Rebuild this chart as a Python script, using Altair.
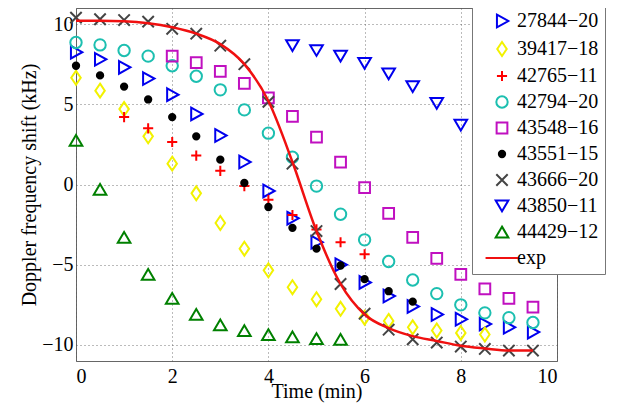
import altair as alt
import pandas as pd

# Time axis (min)
time = [0, 0.5, 1, 1.5, 2, 2.5, 3, 3.5, 4, 4.5, 5, 5.5, 6, 6.5, 7, 7.5, 8, 8.5, 9, 9.5]

N = None
s27844_20 = [8.25, 7.8, 7.3, 6.6, 5.6, 4.4, 3.05, 1.4, -0.4, -2.1, -3.6, -5.0, -6.1, -6.95, -7.6, -8.1, -8.4, -8.7, -8.9, -9.2]
s39417_18 = [6.65, 5.85, 4.7, 3.0, 1.3, -0.55, -2.4, -4.0, -5.35, -6.4, -7.15, -7.75, -8.3, -8.5, -8.9, -9.1, -9.25, -9.35, N, N]
s42765_11 = [N, N, 4.2, 3.5, 2.65, 1.8, 0.85, -0.1, -0.95, -1.9, -2.8, -3.6, -4.35, N, N, N, N, N, N, N]
s42794_20 = [8.85, 8.7, 8.35, 8.0, 7.4, 6.75, 5.9, 4.65, 3.2, 1.7, -0.1, -1.85, -3.45, -4.8, -5.95, -6.8, -7.5, -8.0, -8.3, -8.6]
s43548_16 = [N, N, N, N, 8.0, 7.6, 7.05, 6.3, 5.4, 4.25, 2.95, 1.4, -0.2, -1.8, -3.3, -4.6, -5.6, -6.5, -7.1, -7.65]
s43551_15 = [7.4, 6.8, 6.1, 5.3, 4.2, 3.0, 1.55, 0.1, -1.4, -2.7, -4.0, -5.05, -5.9, -6.65, -7.3, N, N, N, N, N]
s43666_20 = [10.4, 10.3, 10.25, 10.15, 9.7, 9.4, 8.65, 7.5, 5.15, 1.3, -2.9, -6.2, -8.05, -9.05, -9.65, -9.85, -10.1, -10.25, -10.35, -10.35]
s43850_11 = [N, N, N, N, N, N, N, N, N, 8.65, 8.35, 8.0, 7.55, 6.9, 6.1, 5.05, 3.7, N, N, N]
s44429_12 = [2.75, -0.3, -3.3, -5.6, -7.1, -8.1, -8.75, -9.1, -9.35, -9.5, -9.6, -9.65, N, N, N, N, N, N, N, N]
exp_fit = [10.2, 10.2, 10.17, 10.05, 9.8, 9.4, 8.75, 7.5, 5.2, 1.4, -2.9, -6.2, -8.1, -8.95, -9.45, -9.75, -10.05, -10.22, -10.35, -10.35]

names = ["27844\u221220", "39417\u221218", "42765\u221211", "42794\u221220", "43548\u221216",
         "43551\u221215", "43666\u221220", "43850\u221211", "44429\u221212", "exp"]
series = [s27844_20, s39417_18, s42765_11, s42794_20, s43548_16,
          s43551_15, s43666_20, s43850_11, s44429_12]

stroke_colors = ["#0000EE", "#F2F200", "#FF0000", "#1CBFB0", "#C010C0",
                 "#000000", "#444444", "#0000EE", "#008000", "#F01010"]
fill_colors = ["transparent"] * 5 + ["#000000"] + ["transparent"] * 4
shapes = [
    "M-0.8,-1L1,0L-0.8,1Z",                                   # right triangle
    "M0,-1.1L0.75,0L0,1.1L-0.75,0Z",                          # diamond
    "M-0.8,0L0.8,0M0,-0.8L0,0.8",                             # plus
    "M-0.9,0A0.9,0.9,0,1,0,0.9,0A0.9,0.9,0,1,0,-0.9,0Z",      # circle
    "M-0.85,-0.85L0.85,-0.85L0.85,0.85L-0.85,0.85Z",          # square
    "M-0.5,0A0.5,0.5,0,1,0,0.5,0A0.5,0.5,0,1,0,-0.5,0Z",      # dot
    "M-0.9,-0.9L0.9,0.9M-0.9,0.9L0.9,-0.9",                   # x
    "M-1,-0.85L1,-0.85L0,0.85Z",                              # down triangle
    "M0,-0.85L1,0.85L-1,0.85Z",                               # up triangle
    "M-2.6,0L2.6,0",                                          # line
]

rows = []
for name, vals in zip(names[:-1], series):
    for t, v in zip(time, vals):
        if v is not None:
            rows.append({"t": t, "f": v, "series": name})
pts = pd.DataFrame(rows)
line_df = pd.DataFrame({"t": time, "f": exp_fit, "series": "exp"})

FONT = "Liberation Serif"
SIZE = 160

xenc = alt.X("t:Q", scale=alt.Scale(domain=[0, 10], nice=False),
             axis=alt.Axis(values=[0, 2, 4, 6, 8, 10], title="Time (min)",
                           labelPadding=5, titlePadding=-5))
yenc = alt.Y("f:Q", scale=alt.Scale(domain=[-11, 11], nice=False),
             axis=alt.Axis(values=[-10, -5, 0, 5, 10], title="Doppler frequency shift (kHz)",
                           labelPadding=3, titlePadding=2))

stroke_scale = alt.Scale(domain=names, range=stroke_colors)
fill_scale = alt.Scale(domain=names, range=fill_colors)
shape_scale = alt.Scale(domain=names, range=shapes)

legend = alt.Legend(title=None, orient="none", legendX=396, legendY=-3,
                    fillColor="white", strokeColor="#777777", padding=6,
                    symbolSize=SIZE, symbolStrokeWidth=2, symbolOffset=14,
                    labelOffset=5, rowPadding=6, labelFont=FONT, labelFontSize=20,
                    labelColor="black", cornerRadius=0, labelLimit=0)

points = alt.Chart(pts).mark_point(filled=False, size=SIZE, strokeWidth=2, opacity=1).encode(
    x=xenc, y=yenc,
    stroke=alt.Stroke("series:N", scale=stroke_scale, legend=legend, sort=names),
    fill=alt.Fill("series:N", scale=fill_scale, legend=legend, sort=names),
    shape=alt.Shape("series:N", scale=shape_scale, legend=legend, sort=names),
)

line = alt.Chart(line_df).mark_line(strokeWidth=2.5, interpolate="monotone").encode(
    x=xenc, y=yenc,
    stroke=alt.Stroke("series:N", scale=stroke_scale, legend=legend, sort=names),
)

chart = alt.layer(points, line).properties(
    width=481, height=353,
    background="white",
    autosize=alt.AutoSizeParams(type="none"),
    padding={"left": 68, "top": 0, "right": 61, "bottom": 43},
).configure_view(
    stroke="#666666", strokeWidth=1
).configure_axis(
    labelFont=FONT, labelFontSize=20, labelColor="black",
    titleFont=FONT, titleFontSize=20, titleFontWeight="normal", titleColor="black",
    grid=True, gridDash=[1, 3], gridColor="#555555", gridOpacity=0.8,
    domain=False, ticks=False,
)

chart.save("out.html", embed_options={"renderer": "svg", "actions": False})
